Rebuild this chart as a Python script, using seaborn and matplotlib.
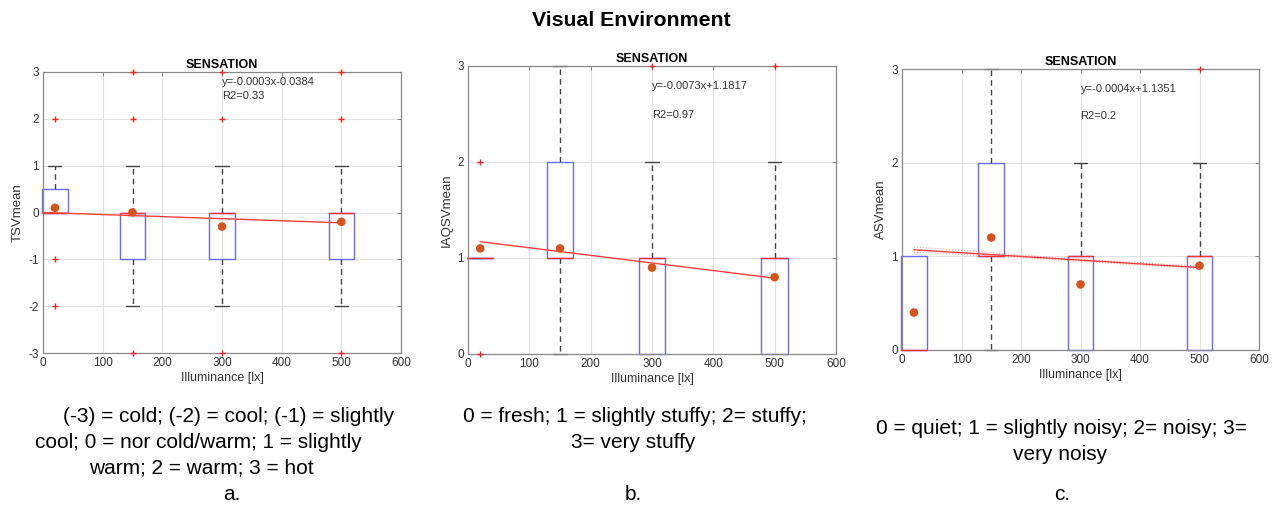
import matplotlib
matplotlib.use("Agg")
import matplotlib.pyplot as plt
import seaborn as sns

sns.set_theme(style="white")
plt.rcParams["font.family"] = ["Liberation Sans", "DejaVu Sans"]

# ---------------- data ----------------
positions = [20, 150, 300, 500]
x_ticks = [0, 100, 200, 300, 400, 500, 600]

# Panel a: TSV
tsv_q1 = [0, -1, -1, -1]
tsv_med = [0, 0, 0, 0]
tsv_q3 = [0.5, 0, 0, 0]
tsv_whislo = [0, -2, -2, -2]
tsv_whishi = [1, 1, 1, 1]
tsv_outliers = [[2, -1, -2], [3, 2, -3], [3, 2, -3], [3, 2, -3]]
tsv_mean = [0.1, 0.0, -0.3, -0.2]
tsv_fit_x = [0, 500]
tsv_fit_y = [0.0, -0.22]
tsv_eq = "y=-0.0003x-0.0384"
tsv_r2 = "R2=0.33"

# Panel b: IAQSV
iaq_q1 = [1, 1, 0, 0]
iaq_med = [1, 1, 1, 1]
iaq_q3 = [1, 2, 1, 1]
iaq_whislo = [1, 0, 0, 0]
iaq_whishi = [1, 3, 2, 2]
iaq_outliers = [[2, 0], [], [3], [3]]
iaq_mean = [1.1, 1.1, 0.9, 0.8]
iaq_fit_x = [20, 500]
iaq_fit_y = [1.17, 0.79]
iaq_eq = "y=-0.0073x+1.1817"
iaq_r2 = "R2=0.97"

# Panel c: ASV
asv_q1 = [0, 1, 0, 0]
asv_med = [0, 1, 1, 1]
asv_q3 = [1, 2, 1, 1]
asv_whislo = [0, 0, 0, 0]
asv_whishi = [1, 3, 2, 2]
asv_outliers = [[], [], [], [3]]
asv_mean = [0.4, 1.2, 0.7, 0.9]
asv_fit_x = [20, 500]
asv_fit_y = [1.07, 0.88]
asv_band_x = [20, 260, 500]
asv_band_hi = [1.10, 0.985, 0.895]
asv_band_lo = [1.045, 0.965, 0.865]
asv_eq = "y=-0.0004x+1.1351"
asv_r2 = "R2=0.2"

captions_a = ["(-3) = cold; (-2) = cool; (-1) = slightly",
              "cool; 0 = nor cold/warm; 1 = slightly",
              "warm; 2 = warm; 3 = hot"]
captions_b = ["0 = fresh; 1 = slightly stuffy; 2= stuffy;",
              "3= very stuffy"]
captions_c = ["0 = quiet; 1 = slightly noisy; 2= noisy; 3=",
              "very noisy"]
letters = ["a.", "b.", "c."]

# ---------------- figure ----------------
fig = plt.figure(figsize=(12.8, 5.08), dpi=100)

ax_rects = [
    [43 / 1280, 1 - 353 / 508, 358 / 1280, 281 / 508],
    [468 / 1280, 1 - 354 / 508, 368 / 1280, 288 / 508],
    [902 / 1280, 1 - 350 / 508, 357 / 1280, 281 / 508],
]

panels = [
    dict(q1=tsv_q1, med=tsv_med, q3=tsv_q3, lo=tsv_whislo, hi=tsv_whishi,
         fl=tsv_outliers, mean=tsv_mean, fx=tsv_fit_x, fy=tsv_fit_y,
         eq=tsv_eq, r2=tsv_r2, ylab="TSVmean", ylim=(-3, 3),
         yt=[-3, -2, -1, 0, 1, 2, 3], eqy=2.79, r2y=2.49),
    dict(q1=iaq_q1, med=iaq_med, q3=iaq_q3, lo=iaq_whislo, hi=iaq_whishi,
         fl=iaq_outliers, mean=iaq_mean, fx=iaq_fit_x, fy=iaq_fit_y,
         eq=iaq_eq, r2=iaq_r2, ylab="IAQSVmean", ylim=(0, 3),
         yt=[0, 1, 2, 3], eqy=2.79, r2y=2.49),
    dict(q1=asv_q1, med=asv_med, q3=asv_q3, lo=asv_whislo, hi=asv_whishi,
         fl=asv_outliers, mean=asv_mean, fx=asv_fit_x, fy=asv_fit_y,
         eq=asv_eq, r2=asv_r2, ylab="ASVmean", ylim=(0, 3),
         yt=[0, 1, 2, 3], eqy=2.79, r2y=2.50),
]

box_color = "#6a6aff"
med_color = "#ff3030"
fit_color = "#ff4040"
mean_color = "#D95319"

for i, (rect, p) in enumerate(zip(ax_rects, panels)):
    ax = fig.add_axes(rect)
    stats = []
    for k in range(len(positions)):
        stats.append(dict(q1=p["q1"][k], med=p["med"][k], q3=p["q3"][k],
                          whislo=p["lo"][k], whishi=p["hi"][k],
                          fliers=p["fl"][k], mean=p["mean"][k]))
    res = ax.bxp(stats, positions=positions, widths=43, showmeans=False,
                 patch_artist=False, manage_ticks=False,
                 boxprops=dict(color=box_color, lw=1.0),
                 medianprops=dict(color=med_color, lw=1.0),
                 whiskerprops=dict(color="#444444", lw=1.0, ls=(0, (4, 3))),
                 capprops=dict(color="#444444", lw=1.0),
                 flierprops=dict(marker="+", markeredgecolor="#ff2020",
                                 markersize=4, markeredgewidth=1.0, ls="none"))
    for k in range(len(positions)):
        if p["lo"][k] == p["q1"][k]:
            res["caps"][2 * k].set_visible(False)
            res["whiskers"][2 * k].set_visible(False)
        if p["hi"][k] == p["q3"][k]:
            res["caps"][2 * k + 1].set_visible(False)
            res["whiskers"][2 * k + 1].set_visible(False)
        for c in (res["caps"][2 * k], res["caps"][2 * k + 1]):
            c.set_xdata([positions[k] - 11, positions[k] + 11])
    for m in res["medians"]:
        m.set_zorder(3)
        m.set_clip_on(False)
    for f in res["fliers"]:
        f.set_clip_on(False)
        f.set_zorder(5)
    for c in res["caps"]:
        c.set_clip_on(False)
    for b in res["boxes"]:
        b.set_clip_on(False)

    if i == 2:
        sns.lineplot(x=asv_band_x, y=asv_band_hi, ax=ax, color=fit_color,
                     lw=0.8, ls=":", alpha=0.5, zorder=4)
        sns.lineplot(x=asv_band_x, y=asv_band_lo, ax=ax, color=fit_color,
                     lw=0.8, ls=":", alpha=0.5, zorder=4)
    sns.lineplot(x=p["fx"], y=p["fy"], ax=ax, color=fit_color, lw=1.0,
                 zorder=4)
    sns.scatterplot(x=positions, y=p["mean"], ax=ax, color=mean_color,
                    s=38, edgecolor="none", zorder=6)

    ax.text(300, p["eqy"], p["eq"], fontsize=8, color="#333333",
            va="center", ha="left")
    ax.text(300, p["r2y"], p["r2"], fontsize=8, color="#333333",
            va="center", ha="left")

    ax.set_xlim(0, 600)
    ax.set_ylim(*p["ylim"])
    ax.set_xticks(x_ticks)
    ax.set_yticks(p["yt"])
    ax.set_xticklabels([str(t) for t in x_ticks])
    ax.set_yticklabels([str(t) for t in p["yt"]])
    ax.grid(True, color="#e2e2e2", lw=0.8)
    ax.set_axisbelow(True)
    ax.tick_params(direction="in", length=3, width=0.6, top=True, right=True,
                   labelsize=8.5, labelcolor="#333333", color="#777777", pad=3)
    for s in ax.spines.values():
        s.set_color("#888888")
        s.set_linewidth(0.9)
    ax.set_xlabel("Illuminance [lx]", fontsize=9, color="#333333", labelpad=2)
    ax.set_ylabel(p["ylab"], fontsize=9.5, color="#333333", labelpad=3)
    ax.set_title("SENSATION", fontsize=9, fontweight="bold", pad=3,
                 color="black")

fig.text(631 / 1280, 1 - 20 / 508, "Visual Environment", ha="center",
         va="center", fontsize=15.3, fontweight="bold", color="black")

cap_sets = [([229, 198, 201], [416, 442, 468], captions_a),
            ([635, 633], [416, 442], captions_b),
            ([1061, 1060], [428, 455], captions_c)]
for cxs, ys, lines in cap_sets:
    for cx, y, t in zip(cxs, ys, lines):
        fig.text(cx / 1280, 1 - y / 508, t, ha="center", va="center",
                 fontsize=15, color="black")
for cx, t in zip([232, 633, 1062], letters):
    fig.text(cx / 1280, 1 - 494 / 508, t, ha="center", va="center",
             fontsize=15, color="black")

fig.savefig("out.png", dpi=100)
